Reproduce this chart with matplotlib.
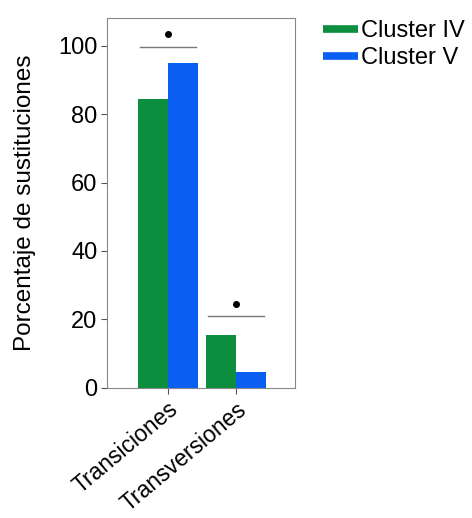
import matplotlib
matplotlib.use("Agg")
import matplotlib.pyplot as plt
from matplotlib.lines import Line2D
import numpy as np

plt.rcParams['font.family'] = ['Liberation Sans', 'DejaVu Sans']

categories = ["Transiciones", "Transversiones"]
series_names = ["Cluster IV", "Cluster V"]
cluster_iv = [84.5, 15.5]
cluster_v = [95.0, 4.8]
sig_line_y = [99.5, 21.0]
sig_star_y = [103.5, 24.5]
yticks = [0, 20, 40, 60, 80, 100]

colors = ["#0b8e3e", "#0a5ef2"]

fig = plt.figure(figsize=(4.72, 5.18), dpi=100)
ax = fig.add_axes([0.2267, 0.251, 0.3983, 0.714])

x = np.arange(len(categories))
w = 0.44
ax.bar(x - w/2, cluster_iv, width=w, color=colors[0], label=series_names[0])
ax.bar(x + w/2, cluster_v, width=w, color=colors[1], label=series_names[1])

for xi, ly, sy in zip(x, sig_line_y, sig_star_y):
    ax.plot([xi - w*0.95, xi + w*0.95], [ly, ly], color="#777777", lw=1)
    ax.plot([xi], [sy], marker='o', color='black', markersize=4)

ax.set_xlim(-0.9, 1.87)
ax.set_ylim(0, 108)
ax.set_yticks(yticks)
ax.set_yticklabels([str(t) for t in yticks], fontsize=17)
ax.set_xticks(x)
ax.set_xticklabels(categories, rotation=40, ha='right', rotation_mode='anchor', fontsize=16.5)
ax.set_ylabel("Porcentaje de sustituciones", fontsize=17.5, labelpad=16)
ax.tick_params(axis='both', direction='out', length=4, color='#555555', width=0.8, pad=3)
for s in ax.spines.values():
    s.set_color('#888888')
    s.set_linewidth(0.8)

handles = [Line2D([0], [0], color=c, lw=5.5, solid_capstyle='butt') for c in colors]
fig.legend(handles, series_names, loc='upper left', bbox_to_anchor=(0.665, 0.979),
           frameon=False, fontsize=17, handlelength=1.45, handletextpad=0.15,
           labelspacing=0.2, borderaxespad=0)

fig.savefig("out.png", dpi=100)
